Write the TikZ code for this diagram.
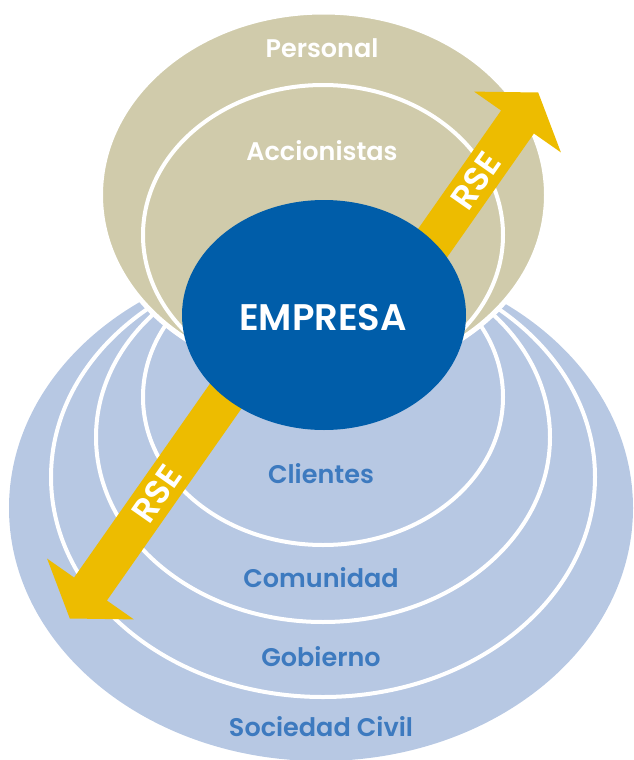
\documentclass[tikz,border=0pt]{standalone}
\usepackage{fontspec}
\setmainfont{Poppins}[BoldFont={Poppins SemiBold}]
\usetikzlibrary{shapes.geometric}
\definecolor{lblue}{HTML}{B7C8E3}
\definecolor{rsetan}{HTML}{D0CBAB}
\definecolor{dblue}{HTML}{005DA9}
\definecolor{labblue}{HTML}{3D7ABF}
\definecolor{gold}{HTML}{EDBC00}
\tikzset{
  elli/.style={ellipse, inner sep=0pt, outer sep=0pt},
  ringline/.style={elli, draw=white, line width=4pt},
  wlab/.style={anchor=base, text=white, font=\bfseries\fontsize{25.5}{30}\selectfont, inner sep=0pt},
  blab/.style={anchor=base, text=labblue, font=\bfseries\fontsize{25.5}{30}\selectfont, inner sep=0pt},
  rselab/.style={anchor=center, text=white, font=\bfseries\fontsize{34}{38}\selectfont, inner sep=0pt, rotate=55},
  arrowfill/.style={fill=gold}
}
\begin{document}
\begin{tikzpicture}[x=1pt,y=-1pt]
\useasboundingbox (0,0) rectangle (633,760);
% blue rings
\node[elli, fill=lblue, minimum width=624pt, minimum height=506pt] (civil) at (321,508) {};
\node[ringline, minimum width=544pt, minimum height=440pt] (gob) at (323,477) {};
\node[ringline, minimum width=454pt, minimum height=370pt] (com) at (323,437) {};
\node[ringline, minimum width=360pt, minimum height=296pt] (cli) at (323,397) {};
% tan
\node[elli, fill=rsetan, draw=white, line width=5pt, minimum width=446pt, minimum height=366pt] (pers) at (323.5,195) {};
\begin{scope}
  \clip (pers.center) ellipse [x radius=223pt, y radius=183pt];
  \node[ringline, minimum width=360pt, minimum height=300pt] (acc) at (323,235) {};
\end{scope}
% upper arrow
\coordinate (ua1) at (367.4,371);
\coordinate (ua2) at (533.9,133.5);
\coordinate (ua3) at (560.9,152.4);
\coordinate (uat) at (538.2,92.5);
\coordinate (ua4) at (474.1,91.6);
\coordinate (ua5) at (501.1,110.5);
\coordinate (ua6) at (334.6,348);
\fill[arrowfill] (ua1) -- (ua2) -- (ua3) -- (uat) -- (ua4) -- (ua5) -- (ua6) -- cycle;
% lower arrow
\coordinate (la1) at (273.4,363);
\coordinate (la2) at (106.9,600.5);
\coordinate (la3) at (133.9,619.4);
\coordinate (lat) at (69.8,618.5);
\coordinate (la4) at (47.1,558.6);
\coordinate (la5) at (74.1,577.5);
\coordinate (la6) at (240.6,340);
\fill[arrowfill] (la1) -- (la2) -- (la3) -- (lat) -- (la4) -- (la5) -- (la6) -- cycle;
% empresa
\node[elli, fill=dblue, minimum width=284pt, minimum height=230pt] (emp) at (324,315) {};
\node[anchor=base, text=white, font=\bfseries\fontsize{37}{44}\selectfont, inner sep=0pt] (emptext) at (323,330) {EMPRESA};
% labels
\node[wlab] (lpers) at (322,57) {Personal};
\node[wlab] (lacc) at (322,160) {Accionistas};
\node[blab] (lcli) at (321,483) {Clientes};
\node[blab] (lcom) at (321,587) {Comunidad};
\node[blab] (lgob) at (321,666) {Gobierno};
\node[blab] (lciv) at (321,736) {Sociedad Civil};
\node[rselab] (rse1) at (476,181) {RSE};
\node[rselab] (rse2) at (157,494) {RSE};
\end{tikzpicture}
\end{document}
